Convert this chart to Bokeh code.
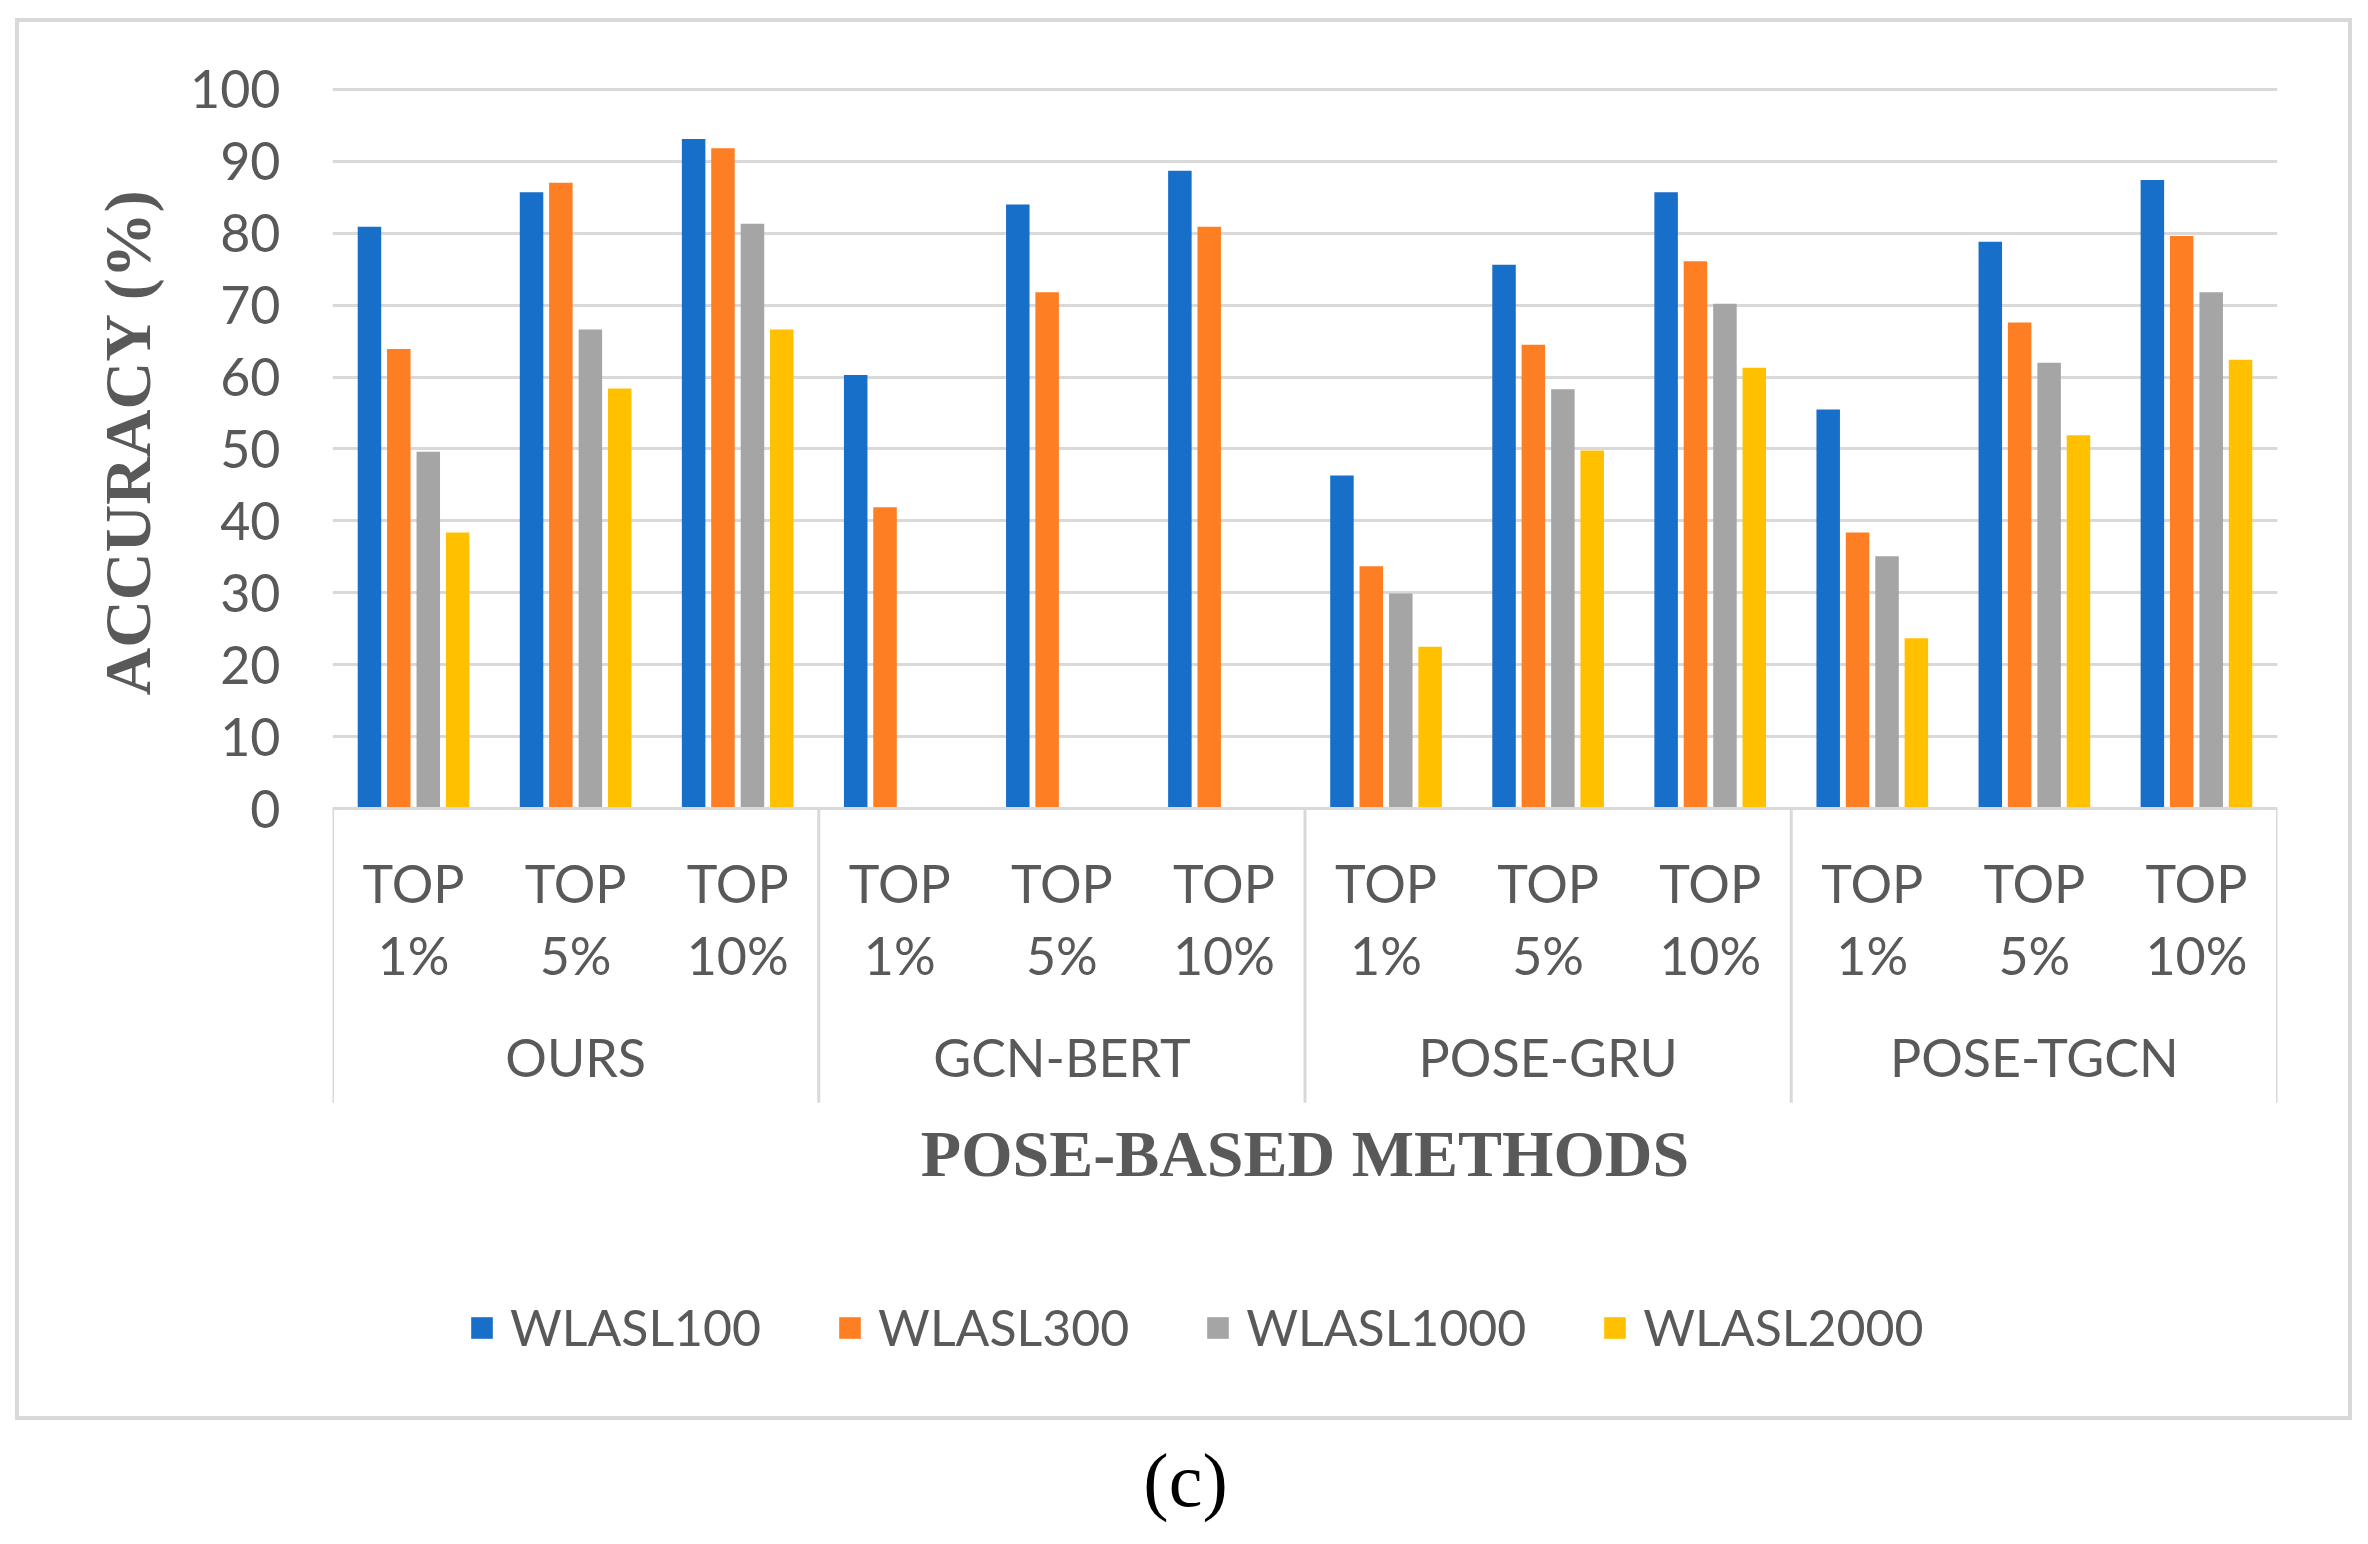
from bokeh.plotting import figure
from bokeh.models import ColumnDataSource, FactorRange, Range1d, FixedTicker, Legend, LegendItem, Label, Title
from bokeh.transform import dodge
from bokeh.embed import file_html
from bokeh.resources import INLINE

NAN = float("nan")

# ---------------- data ----------------
groups = ["OURS", "GCN-BERT", "POSE-GRU", "POSE-TGCN"]
tops = ["TOP\n1%", "TOP\n5%", "TOP\n10%"]
series_names = ["WLASL100", "WLASL300", "WLASL1000", "WLASL2000"]
wlasl100 = [80.9, 85.7, 93.1, 60.3, 84.0, 88.7, 46.3, 75.6, 85.7, 55.5, 78.8, 87.4]
wlasl300 = [63.9, 87.0, 91.8, 41.9, 71.8, 80.9, 33.7, 64.5, 76.1, 38.4, 67.6, 79.6]
wlasl1000 = [49.6, 66.6, 81.3, NAN, NAN, NAN, 29.9, 58.3, 70.2, 35.1, 62.0, 71.8]
wlasl2000 = [38.4, 58.4, 66.6, NAN, NAN, NAN, 22.5, 49.8, 61.3, 23.7, 51.9, 62.4]
y_ticks = [0, 10, 20, 30, 40, 50, 60, 70, 80, 90, 100]
x_title = "POSE-BASED METHODS"
y_title = "ACCURACY (%)"
caption = "(c)"

colors = ["#176FC9", "#FD7E23", "#A5A5A5", "#FFC000"]
offsets = [-0.272, -0.091, 0.091, 0.272]
BAR_W = 0.145

factors = [(g, t) for g in groups for t in tops]
src = ColumnDataSource(dict(x=factors, WLASL100=wlasl100, WLASL300=wlasl300,
                            WLASL1000=wlasl1000, WLASL2000=wlasl2000))

TXT = "#595959"
GRID = "#D9D9D9"
SANS = "Lato"
SERIF = "Liberation Serif"

# The frame extends below the value axis so that the category axis (pinned at y=0),
# the legend and the caption all sit inside the drawing area.
W, H = 2352, 1528
p = figure(x_range=FactorRange(*factors, factor_padding=0, group_padding=0, range_padding=0),
           y_range=Range1d(-100.1, 100.4), width=W, height=H,
           output_backend="svg", toolbar_location=None,
           min_border_left=332, min_border_right=75, min_border_top=86, min_border_bottom=0)

renderers = []
for name, col, off in zip(series_names, colors, offsets):
    r = p.vbar(x=dodge("x", off, range=p.x_range), top=name, width=BAR_W, bottom=0,
               source=src, fill_color=col, line_color=None)
    renderers.append(r)

p.outline_line_color = None
p.border_fill_color = None
p.background_fill_color = None
p.xgrid.grid_line_color = None
p.ygrid.grid_line_color = GRID
p.ygrid.grid_line_width = 3

# y axis
ya = p.yaxis[0]
ya.ticker = FixedTicker(ticks=y_ticks)
ya.bounds = (0, 100)
ya.axis_line_color = None
ya.major_tick_line_color = None
ya.minor_tick_line_color = None
ya.major_label_text_font = SANS
ya.major_label_text_font_size = "52px"
ya.major_label_text_color = TXT
ya.major_label_standoff = 46

# y-axis title, centred on the 0..100 value span
ytitle = Title(text=y_title, align="left", offset=833, standoff=48,
               text_font=SERIF, text_font_style="bold", text_font_size="66px", text_color=TXT)
p.add_layout(ytitle, "left")

# x axis (category axis pinned at value 0)
xa = p.xaxis[0]
xa.fixed_location = 0
xa.axis_line_color = GRID
xa.axis_line_width = 3
xa.major_tick_line_color = None
xa.minor_tick_line_color = None
xa.major_label_text_font = SANS
xa.major_label_text_font_size = "52px"
xa.major_label_text_color = TXT
xa.major_label_text_line_height = 1.17
xa.major_label_standoff = 37
xa.major_label_orientation = "horizontal"
xa.group_text_font = SANS
xa.group_text_font_size = "52px"
xa.group_text_font_style = "normal"
xa.group_text_color = TXT
xa.separator_line_color = None
xa.axis_label = x_title
xa.axis_label_text_font = SERIF
xa.axis_label_text_font_style = "bold"
xa.axis_label_text_font_size = "66px"
xa.axis_label_text_color = TXT
xa.axis_label_standoff = 26

# group separators of the category axis (left edge of every group + right edge of the last)
SEP_BOTTOM = -40.9
sep_left = ColumnDataSource(dict(x=[(g, tops[0]) for g in groups], y0=[0] * len(groups),
                                 y1=[SEP_BOTTOM] * len(groups)))
sep_right = ColumnDataSource(dict(x=[(groups[-1], tops[-1])], y0=[0], y1=[SEP_BOTTOM]))
for s, off in ((sep_left, -0.5), (sep_right, 0.5)):
    xd = dodge("x", off, range=p.x_range)
    p.segment(x0=xd, x1=xd, y0="y0", y1="y1", source=s, line_color=GRID, line_width=3)

legend = Legend(items=[LegendItem(label=n, renderers=[r]) for n, r in zip(series_names, renderers)],
                orientation="horizontal", location=(136, 171),
                glyph_width=27, glyph_height=27, label_standoff=15, spacing=75,
                padding=0, margin=0, border_line_color=None, background_fill_alpha=0,
                label_text_font=SANS, label_text_font_size="50px", label_text_color=TXT)
p.add_layout(legend)

p.add_layout(Label(x=5.263, y=-93.3, text=caption, text_align="center", text_baseline="middle",
                   text_font=SERIF, text_font_size="76px", text_color="black"))

# outer chart border (Excel chart area outline), drawn as styling behind the transparent canvas
line = "linear-gradient(#D9D9D9,#D9D9D9)"
p.styles = {"background": (
    f"{line} 15px 18px / 2338px 4px no-repeat, "
    f"{line} 15px 1416px / 2338px 4px no-repeat, "
    f"{line} 15px 18px / 4px 1402px no-repeat, "
    f"{line} 2348px 18px / 4px 1402px no-repeat, white")}

open("out.html", "w").write(file_html(p, INLINE))
